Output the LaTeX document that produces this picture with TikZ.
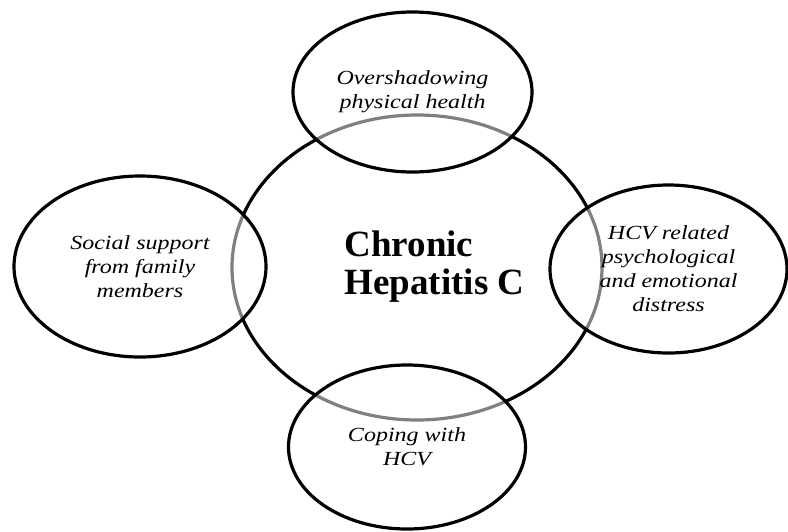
\documentclass[tikz,border=0pt]{standalone}
\usepackage{fontspec}
\setmainfont{Liberation Serif}[BoldFont={Liberation Serif Bold}, ItalicFont={Liberation Serif Italic}]
\newfontfamily\bubblefont{Liberation Serif}[FakeStretch=1.2, ItalicFont={Liberation Serif Italic}]
\usetikzlibrary{shapes.geometric}

\begin{document}
\begin{tikzpicture}[x=1pt, y=-1pt,
	core/.style={ellipse, draw, line width=3.2pt, inner sep=0pt},
	bubble/.style={ellipse, draw, line width=3.2pt, fill=white, fill opacity=0.5, text opacity=1, inner sep=0pt, align=center, font=\bubblefont\itshape\fontsize{20}{24}\selectfont}]
	\useasboundingbox (0,0) rectangle (788,531);

	% central theme
	\node[core, minimum width=370pt, minimum height=305pt] (hepc) at (417,267.5) {};
	\node[anchor=west, align=left, font=\rmfamily\bfseries\fontsize{37}{38}\selectfont] (title) at (341,267) {Chronic\\Hepatitis C};

	% surrounding themes
	\node[bubble, minimum width=239pt, minimum height=160pt] (health) at (412.5,92) {Overshadowing\\physical health};
	\node[bubble, minimum width=252pt, minimum height=181pt] (support) at (140,266.5) {Social support\\from family\\members};
	\node[bubble, minimum width=237pt, minimum height=168pt] (distress) at (668.5,269) {HCV related\\psychological\\and emotional\\distress};
	\node[bubble, minimum width=237pt, minimum height=164pt] (coping) at (407,447) {Coping with\\HCV};
\end{tikzpicture}
\end{document}
